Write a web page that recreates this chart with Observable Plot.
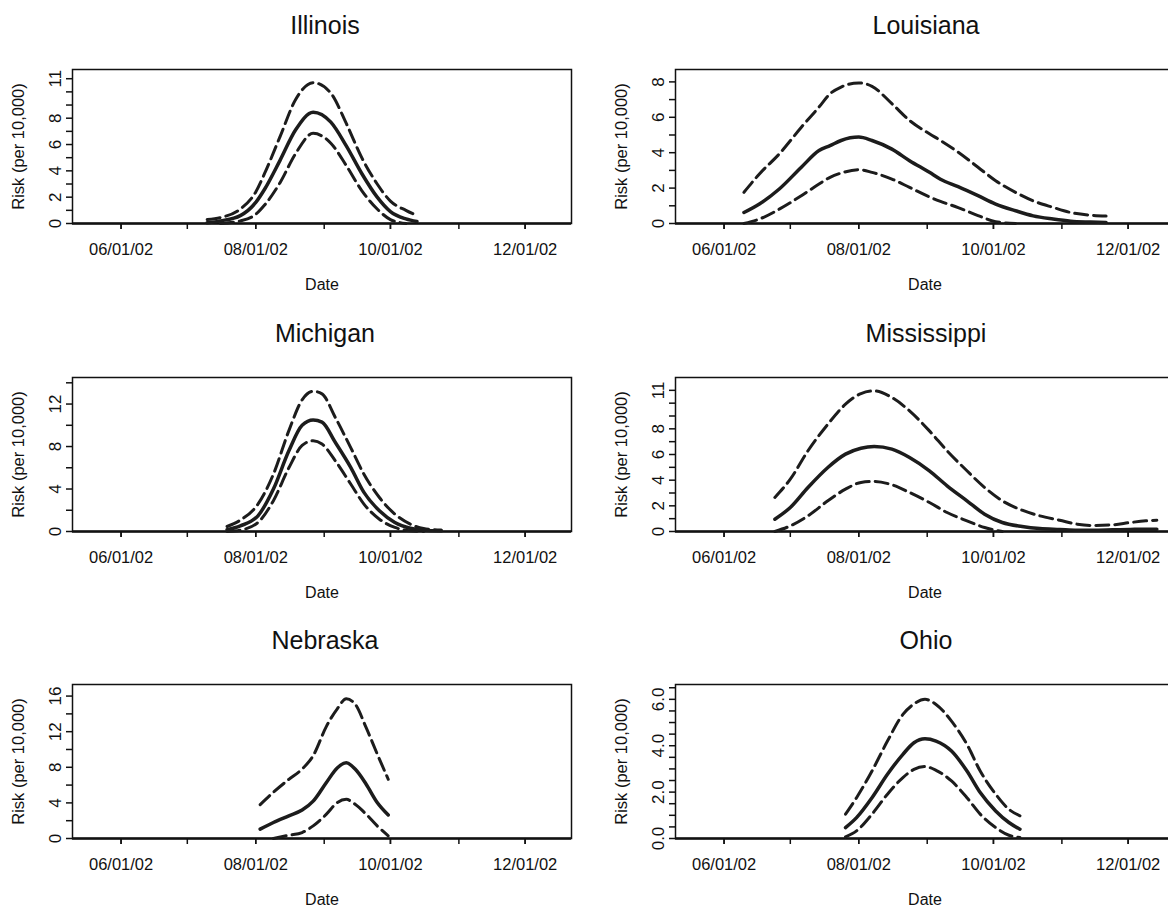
<!DOCTYPE html>
<html><head><meta charset="utf-8">
<script src="https://cdn.jsdelivr.net/npm/d3@7"></script>
<script src="https://cdn.jsdelivr.net/npm/@observablehq/plot@0.6"></script>
<style>
html,body{margin:0;padding:0;background:#fff;overflow:hidden;width:1168px;height:908px;}
#root{position:relative;width:1168px;height:908px;overflow:hidden;font-family:"Liberation Sans",Arial,Helvetica,sans-serif;color:#111;}
.title{position:absolute;width:300px;text-align:center;font-size:25px;line-height:30px;color:#111;}
.panel{position:absolute;width:590px;height:244px;}
.panel svg{max-width:none !important;}
</style></head><body><div id="root"></div>
<script>
// ---- x axis ticks ----
const xDomain = ["2002-05-10", "2002-12-22"];
const monthTicks = ["2002-06-01","2002-07-01","2002-08-01","2002-09-01","2002-10-01","2002-11-01","2002-12-01"];
const labelTicks = ["2002-06-01","2002-08-01","2002-10-01","2002-12-01"];

// ---- Illinois ----
const ilDates = ["2002-07-10","2002-07-16","2002-07-25","2002-08-01","2002-08-05","2002-08-12","2002-08-19","2002-08-27","2002-09-04","2002-09-11","2002-09-18","2002-09-25","2002-10-01","2002-10-08","2002-10-13"];
const ilHi  = [0.3,0.45,1.1,2.4,3.8,6.6,9.4,10.7,9.9,7.6,5.0,3.0,1.7,1.0,0.6];
const ilMid = [0.05,0.2,0.6,1.6,2.6,4.8,7.1,8.45,7.7,5.9,3.8,2.0,0.9,0.35,0.15];
const ilLo  = [null,0,0.2,0.7,1.4,3.1,5.3,6.85,6.1,4.4,2.5,1.1,0.3,0,null];
const ilYLabels = [0,2,4,6,8,11];
const ilYTicks = [0,1,2,3,4,5,6,7,8,9,10,11];

// ---- Louisiana ----
const laDates = ["2002-06-10","2002-06-17","2002-06-26","2002-07-06","2002-07-14","2002-07-19","2002-07-24","2002-08-01","2002-08-07","2002-08-16","2002-08-24","2002-09-02","2002-09-07","2002-09-15","2002-09-24","2002-10-02","2002-10-11","2002-10-19","2002-10-28","2002-11-05","2002-11-14","2002-11-21"];
const laHi  = [1.76,2.8,3.93,5.44,6.58,7.33,7.71,7.94,7.75,6.77,5.82,5.07,4.69,4.03,3.18,2.42,1.76,1.28,0.91,0.62,0.47,0.42];
const laMid = [0.62,1.1,1.95,3.18,4.12,4.4,4.69,4.88,4.69,4.2,3.55,2.89,2.5,2.08,1.57,1.1,0.72,0.43,0.25,0.13,0.08,0.05];
const laLo  = [0,0.25,0.81,1.57,2.23,2.61,2.85,3.04,2.89,2.51,2.04,1.5,1.25,0.9,0.45,0.1,0,null,null,null,null,null];
const laYLabels = [0,2,4,6,8];
const laYTicks = [0,1,2,3,4,5,6,7,8];

// ---- Michigan ----
const miDates = ["2002-07-19","2002-07-25","2002-08-02","2002-08-09","2002-08-16","2002-08-22","2002-08-27","2002-08-31","2002-09-06","2002-09-13","2002-09-19","2002-09-26","2002-10-03","2002-10-10","2002-10-16","2002-10-24"];
const miHi  = [0.47,1.07,2.58,5.4,9.5,12.4,13.2,12.96,10.75,7.9,5.4,3.2,1.64,0.69,0.28,0.13];
const miMid = [0.16,0.53,1.48,4.0,7.6,10.0,10.5,10.3,8.4,6.04,3.68,1.95,0.85,0.31,0.13,0.06];
const miLo  = [0,0.13,0.85,2.9,6.0,8.1,8.55,8.24,6.67,4.47,2.58,1.16,0.38,0.06,0,null];
const miYLabels = [0,4,8,12];
const miYTicks = [0,2,4,6,8,10,12,14];

// ---- Mississippi ----
const msDates = ["2002-06-24","2002-07-01","2002-07-09","2002-07-18","2002-07-26","2002-08-02","2002-08-08","2002-08-16","2002-08-24","2002-09-02","2002-09-10","2002-09-19","2002-09-27","2002-10-05","2002-10-14","2002-10-22","2002-10-31","2002-11-08","2002-11-15","2002-11-24","2002-12-02","2002-12-09","2002-12-14"];
const msHi  = [2.65,4.08,6.29,8.36,9.92,10.75,10.96,10.44,9.4,7.84,6.29,4.73,3.43,2.39,1.66,1.22,0.88,0.57,0.47,0.52,0.7,0.83,0.88];
const msMid = [0.96,1.87,3.43,4.99,6.03,6.49,6.62,6.42,5.77,4.73,3.56,2.39,1.35,0.7,0.39,0.23,0.16,0.1,0.1,0.13,0.16,0.18,0.18];
const msLo  = [0,0.44,1.22,2.39,3.3,3.82,3.9,3.64,3.04,2.26,1.48,0.83,0.31,0,null,null,null,null,null,null,null,null,null];
const msYLabels = [0,2,4,6,8,11];
const msYTicks = [0,1,2,3,4,5,6,7,8,9,10,11];

// ---- Nebraska ----
const neDates = ["2002-08-03","2002-08-09","2002-08-16","2002-08-22","2002-08-27","2002-09-02","2002-09-07","2002-09-11","2002-09-15","2002-09-20","2002-09-25","2002-09-30"];
const neHi  = [3.8,5.2,6.65,7.8,9.3,12.6,14.6,15.7,15.1,12.45,9.5,6.65];
const neMid = [1.05,1.8,2.55,3.2,4.2,6.3,7.95,8.5,7.8,6.1,4.05,2.65];
const neLo  = [null,0,0.37,0.67,1.42,2.73,4.05,4.4,3.85,2.73,1.42,0.3];
const neYLabels = [0,4,8,12,16];
const neYTicks = [0,2,4,6,8,10,12,14,16];

// ---- Ohio ----
const ohDates = ["2002-07-26","2002-07-31","2002-08-07","2002-08-14","2002-08-21","2002-08-26","2002-08-31","2002-09-05","2002-09-12","2002-09-19","2002-09-25","2002-10-02","2002-10-08","2002-10-13"];
const ohHi  = [1.05,1.76,2.91,4.2,5.35,5.8,6.0,5.78,5.06,4.06,2.91,1.91,1.26,0.98];
const ohMid = [0.47,0.9,1.76,2.77,3.63,4.13,4.3,4.2,3.77,2.91,1.98,1.19,0.69,0.4];
const ohLo  = [0.07,0.33,1.05,1.91,2.63,2.98,3.1,2.94,2.48,1.76,1.05,0.47,0.14,0.04];
const ohYLabels = [0,2,4,6];
const ohYTicks = [0,0.5,1,1.5,2,2.5,3,3.5,4,4.5,5,5.5,6,6.5];

const panels = [
  {name:"Illinois",    col:0,row:0,dates:ilDates,hi:ilHi,mid:ilMid,lo:ilLo,yMax:11.7,labels:ilYLabels,ticks:ilYTicks,fmt:d3.format("d")},
  {name:"Louisiana",   col:1,row:0,dates:laDates,hi:laHi,mid:laMid,lo:laLo,yMax:8.7, labels:laYLabels,ticks:laYTicks,fmt:d3.format("d")},
  {name:"Michigan",    col:0,row:1,dates:miDates,hi:miHi,mid:miMid,lo:miLo,yMax:14.5,labels:miYLabels,ticks:miYTicks,fmt:d3.format("d")},
  {name:"Mississippi", col:1,row:1,dates:msDates,hi:msHi,mid:msMid,lo:msLo,yMax:12.0,labels:msYLabels,ticks:msYTicks,fmt:d3.format("d")},
  {name:"Nebraska",    col:0,row:2,dates:neDates,hi:neHi,mid:neMid,lo:neLo,yMax:17.3,labels:neYLabels,ticks:neYTicks,fmt:d3.format("d")},
  {name:"Ohio",        col:1,row:2,dates:ohDates,hi:ohHi,mid:ohMid,lo:ohLo,yMax:6.64,labels:ohYLabels,ticks:ohYTicks,fmt:d3.format(".1f")}
];

const root = document.getElementById("root");
const frameTops = [69, 376.5, 683.5];
const colLeft = [0, 603];
const titleCenter = [325, 926];
const ink = "#1c1c1c";
const font = '"Liberation Sans", Arial, Helvetica, sans-serif';

for (const p of panels) {
  const rows = p.dates.map((d, i) => ({date: new Date(d), hi: p.hi[i], mid: p.mid[i], lo: p.lo[i]}));
  const chart = Plot.plot({
    width: 590, height: 244,
    marginTop: 10, marginBottom: 80, marginLeft: 72, marginRight: 19,
    style: {fontFamily: font, fontSize: "16px", color: "#111", background: "transparent", overflow: "visible", maxWidth: "none"},
    x: {type: "utc", domain: xDomain.map(d => new Date(d))},
    y: {domain: [0, p.yMax]},
    marks: [
      Plot.axisX({ticks: monthTicks.map(d => new Date(d)), tickFormat: () => "", tickSize: 6, strokeWidth: 1.5, label: null}),
      Plot.axisX({ticks: labelTicks.map(d => new Date(d)), tickFormat: d3.utcFormat("%m/%d/%y"), tickSize: 6, tickPadding: 14, strokeWidth: 1.5, fontSize: 16.5, label: null}),
      Plot.axisY({ticks: p.ticks, tickFormat: () => "", tickSize: 6, strokeWidth: 1.5, label: null}),
      Plot.text(p.labels, {y: d => d, text: d => p.fmt(d), frameAnchor: "left", dx: -17, rotate: -90, textAnchor: "middle", lineAnchor: "middle", fontSize: 17, fill: "#111"}),
      Plot.text(["Risk (per 10,000)"], {text: d => d, frameAnchor: "left", dx: -54, rotate: -90, textAnchor: "middle", lineAnchor: "middle", fontSize: 16.5, fill: "#111"}),
      Plot.text(["Date"], {text: d => d, frameAnchor: "bottom", dy: 61, textAnchor: "middle", lineAnchor: "middle", fontSize: 16, fill: "#111"}),
      Plot.frame({stroke: "#111", strokeWidth: 1.5}),
      Plot.ruleY([0], {stroke: "#111", strokeWidth: 2.5}),
      Plot.line(rows, {x: "date", y: "hi", stroke: ink, strokeWidth: 3, strokeDasharray: "13,6", curve: "monotone-x"}),
      Plot.line(rows, {x: "date", y: "lo", stroke: ink, strokeWidth: 3, strokeDasharray: "13,6", curve: "monotone-x"}),
      Plot.line(rows, {x: "date", y: "mid", stroke: ink, strokeWidth: 3.5, curve: "monotone-x"})
    ]
  });
  chart.style.maxWidth = "none";
  const wrap = document.createElement("div");
  wrap.className = "panel";
  wrap.style.left = colLeft[p.col] + "px";
  wrap.style.top = (frameTops[p.row] - 10) + "px";
  wrap.appendChild(chart);
  root.appendChild(wrap);

  const t = document.createElement("div");
  t.className = "title";
  t.textContent = p.name;
  t.style.left = (titleCenter[p.col] - 150) + "px";
  t.style.top = (frameTops[p.row] - 59) + "px";
  root.appendChild(t);
}
</script></body></html>
